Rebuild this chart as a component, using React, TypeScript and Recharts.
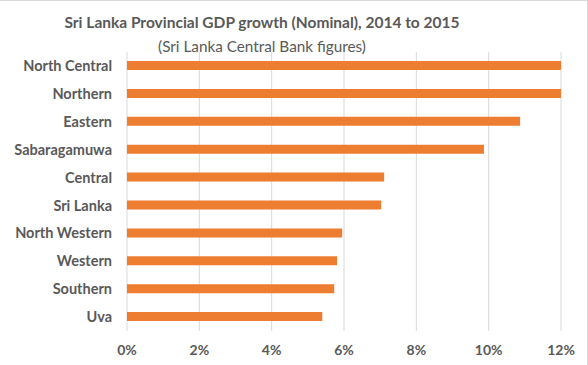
import { BarChart, Bar, XAxis, YAxis, CartesianGrid } from "recharts";

const provinces = [
  "North Central",
  "Northern",
  "Eastern",
  "Sabaragamuwa",
  "Central",
  "Sri Lanka",
  "North Western",
  "Western",
  "Southern",
  "Uva",
];

// nominal GDP growth 2014 -> 2015, percent
const growth = [12.0, 12.0, 10.87, 9.87, 7.11, 7.03, 5.95, 5.81, 5.73, 5.4];

const xTicks = [0, 2, 4, 6, 8, 10, 12];

const data = provinces.map((name, i) => ({ name, growth: growth[i] }));

const FONT = "Lato, 'Open Sans', sans-serif";
const GREY = "#595959";

export default function App() {
  return (
    <div
      style={{
        position: "absolute",
        left: 0,
        top: 0,
        width: 588,
        height: 365,
        background: "#fff",
        fontFamily: FONT,
        boxSizing: "border-box",
        borderTop: "1px solid #d9d9d9",
        borderRight: "1px solid #d9d9d9",
      }}
    >
      <div
        style={{
          position: "absolute",
          left: 0,
          width: 524,
          top: 12,
          textAlign: "center",
          fontSize: 15.5,
          fontWeight: 700,
          color: GREY,
          whiteSpace: "nowrap",
        }}
      >
        Sri Lanka Provincial GDP growth (Nominal), 2014 to 2015
      </div>
      <div
        style={{
          position: "absolute",
          left: 0,
          width: 524,
          top: 36,
          textAlign: "center",
          fontSize: 15.3,
          color: GREY,
          whiteSpace: "nowrap",
        }}
      >
        (Sri Lanka Central Bank figures)
      </div>
      <BarChart
        width={588}
        height={365}
        data={data}
        layout="vertical"
        margin={{ top: 51, right: 27, left: 0, bottom: 0 }}
        barCategoryGap={0}
        style={{ position: "absolute", left: 0, top: 0 }}
      >
        <CartesianGrid horizontal={false} stroke="#d9d9d9" />
        <XAxis
          type="number"
          domain={[0, 12]}
          ticks={xTicks}
          allowDataOverflow
          height={35}
          axisLine={false}
          tickLine={false}
          tickMargin={8}
          tickFormatter={(v) => `${v}%`}
          tick={{ fontSize: 14, fontWeight: 700, fill: GREY, fontFamily: FONT }}
        />
        <YAxis
          type="category"
          dataKey="name"
          width={127}
          axisLine={false}
          tickLine={false}
          tickMargin={9}
          interval={0}
          tick={{ fontSize: 14.5, fontWeight: 700, fill: GREY, fontFamily: FONT }}
        />
        <Bar dataKey="growth" fill="#ED7D31" barSize={9} isAnimationActive={false} />
      </BarChart>
    </div>
  );
}
